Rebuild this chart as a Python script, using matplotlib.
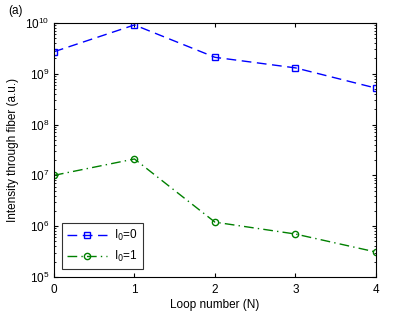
import matplotlib
matplotlib.use("Agg")
import matplotlib.pyplot as plt

loops = [0, 1, 2, 3, 4]
intens_l0 = [2.7e9, 9.1e9, 2.1e9, 1.3e9, 5.2e8]
intens_l1 = [1.0e7, 2.1e7, 1.2e6, 7.0e5, 3.1e5]

plt.rcParams['font.family'] = ['Liberation Sans', 'DejaVu Sans']

fig = plt.figure(figsize=(4.15, 3.13), dpi=100)
ax = fig.add_axes([0.130, 0.115, 0.776, 0.812])

ax.semilogy(loops, intens_l0, color='#0000ff', ls=(0, (7, 4)), lw=1.0,
            marker='s', ms=4, mfc='none', mew=1.0, label='I$_0$=0')
ax.semilogy(loops, intens_l1, color='#008000', ls=(0, (7, 3, 1, 3)), lw=1.0,
            marker='o', ms=4.5, mfc='none', mew=1.0, label='I$_0$=1')

ax.set_xlim(0, 4)
ax.set_ylim(1e5, 1e10)
ax.set_xticks(loops)
ax.tick_params(which='both', direction='in', top=True, right=True, labelsize=8.5)
ax.tick_params(axis='x', pad=5)
ax.tick_params(which='major', length=3)
ax.tick_params(which='minor', length=1.5)
ax.set_xlabel('Loop number (N)', fontsize=8.5, labelpad=2)
ax.set_ylabel('Intensity through fiber (a.u.)', fontsize=8.5)

leg = ax.legend(loc='lower left', fontsize=8.5, fancybox=False, edgecolor='black',
                handlelength=3.4, handletextpad=0.6, borderaxespad=0.7)
leg.get_frame().set_linewidth(0.8)

fig.text(0.02, 0.965, '(a)', fontsize=8.5, va='center')

fig.savefig('out.png', dpi=100)
